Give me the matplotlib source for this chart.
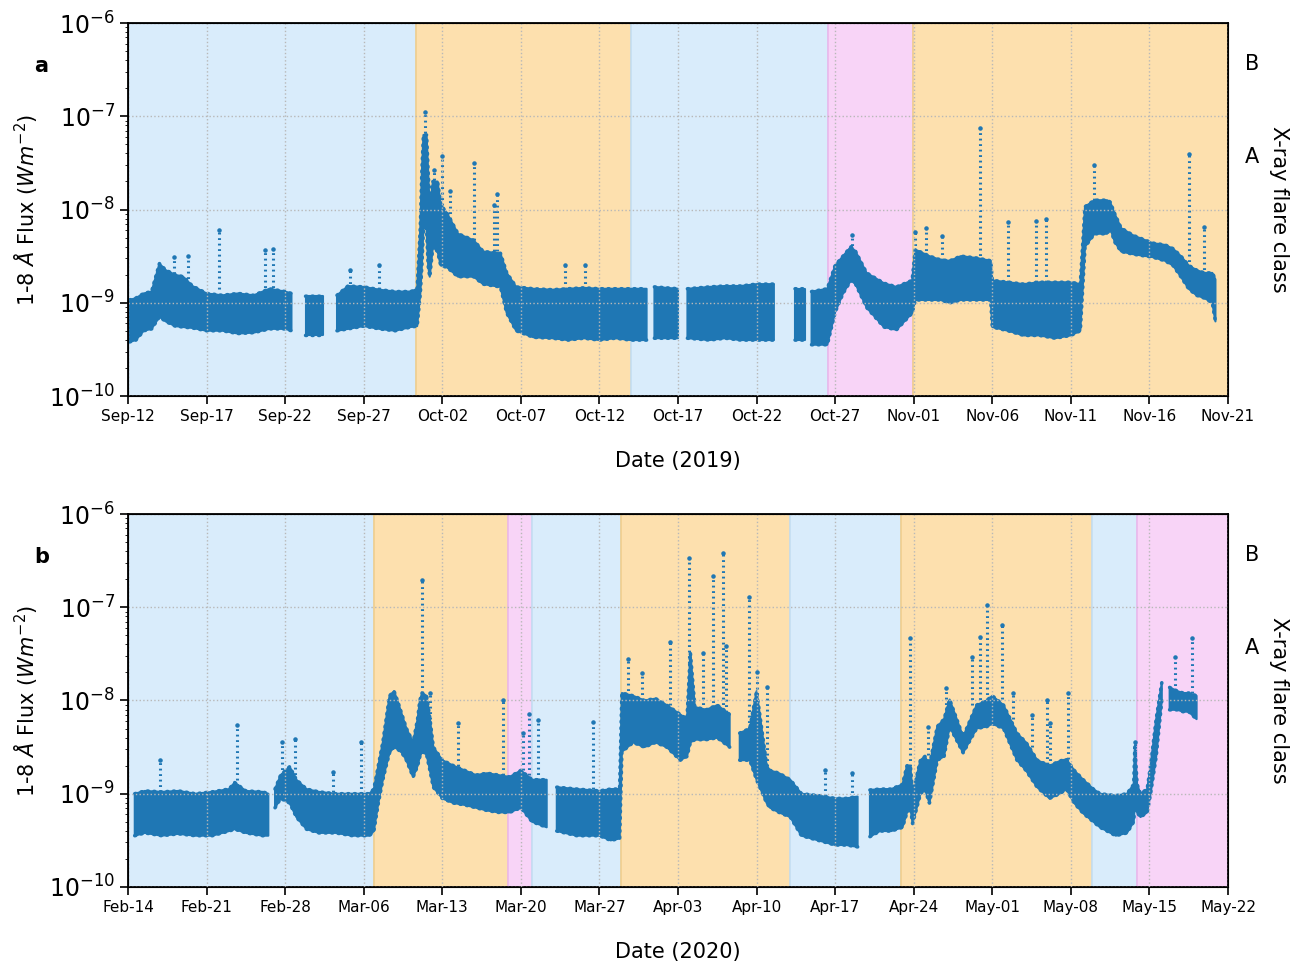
import numpy as np
import matplotlib
matplotlib.use("Agg")
import matplotlib.pyplot as plt
import matplotlib.dates as mdates
from matplotlib.ticker import NullFormatter

nan = np.nan

# ---- panel a (2019), time in days since Sep-12, flux as log10(W m^-2) ----
start_a = np.datetime64('2019-09-12')
t_a = [0.1, 0.5, 1.0, 1.5, 2.0, 2.4, 3.0, 3.5, 4.1, 5.0, 6.0, 7.0, 8.0, 9.0, 10.0, 10.4, 10.45,
       11.3, 12.4, 12.45,
       13.3, 14.0, 15.0, 16.0, 17.0, 18.0, 18.4, 18.6, 18.7, 18.8, 19.0, 19.1, 19.2, 19.4, 19.7,
       19.9, 20.3, 21.0, 22.0, 22.6, 23.7, 24.1, 24.7, 25.8, 27.0, 28.0, 29.0, 30.0, 31.0, 32.0,
       33.0, 33.05,
       33.5, 35.0, 35.1,
       35.6, 37.0, 38.0, 39.0, 40.0, 41.1, 41.2,
       42.45, 43.1, 43.2,
       43.5, 44.5, 45.0, 45.5, 46.0, 46.3, 47.0, 48.1, 48.9, 49.9, 50.1, 51.0, 51.7, 52.3, 53.0,
       54.0, 54.9, 55.0, 56.0, 57.0, 58.0, 59.0, 60.0, 60.6, 60.9, 61.5, 62.3, 62.5, 62.8, 63.2,
       64.0, 65.2, 66.0, 66.5, 67.0, 67.5, 68.0, 68.5, 69.0, 69.2]
lo_a = [-9.42, -9.40, -9.30, -9.28, -9.15, -9.20, -9.25, -9.26, -9.27, -9.30, -9.30, -9.33, -9.32, -9.28, -9.28, -9.30, nan,
        -9.35, -9.35, nan,
        -9.30, -9.28, -9.25, -9.28, -9.30, -9.26, -9.25, -8.90, -8.60, -8.20, -8.20, -8.60, -8.72, -8.40, -8.45,
        -8.60, -8.62, -8.72, -8.72, -8.80, -8.83, -9.11, -9.30, -9.37, -9.38, -9.40, -9.38, -9.40, -9.38, -9.40,
        -9.40, nan,
        -9.38, -9.38, nan,
        -9.38, -9.40, -9.38, -9.40, -9.40, -9.40, nan,
        -9.40, -9.40, nan,
        -9.45, -9.45, -9.10, -8.90, -8.76, -8.80, -9.05, -9.26, -9.29, -9.11, -8.97, -8.97, -8.97, -9.00, -8.97,
        -8.97, -8.97, -9.26, -9.30, -9.35, -9.35, -9.38, -9.35, -9.30, -8.40, -8.26, -8.26, -8.20, -8.35, -8.45,
        -8.48, -8.51, -8.55, -8.60, -8.72, -8.85, -8.92, -8.95, -9.00, -9.20]
hi_a = [-8.97, -8.95, -8.90, -8.88, -8.58, -8.65, -8.70, -8.72, -8.82, -8.90, -8.92, -8.90, -8.92, -8.85, -8.88, -8.90, nan,
        -8.93, -8.93, nan,
        -8.92, -8.82, -8.83, -8.86, -8.88, -8.88, -8.85, -8.20, -7.60, -7.20, -7.20, -7.60, -8.00, -7.70, -7.70,
        -7.95, -8.04, -8.26, -8.33, -8.45, -8.47, -8.68, -8.83, -8.85, -8.86, -8.85, -8.84, -8.85, -8.85, -8.85,
        -8.85, nan,
        -8.83, -8.85, nan,
        -8.85, -8.83, -8.82, -8.82, -8.80, -8.80, nan,
        -8.85, -8.85, nan,
        -8.88, -8.85, -8.60, -8.50, -8.40, -8.45, -8.68, -8.79, -8.83, -8.76, -8.43, -8.50, -8.54, -8.55, -8.50,
        -8.52, -8.55, -8.76, -8.78, -8.80, -8.78, -8.78, -8.78, -8.80, -7.97, -7.90, -7.90, -7.92, -8.05, -8.20,
        -8.28, -8.36, -8.38, -8.42, -8.50, -8.60, -8.65, -8.68, -8.68, -8.75]
# isolated flare spikes: time, base, top (log10)
spk_t_a = [2.9, 3.8, 5.8, 8.7, 9.2, 14.1, 16.0, 18.9, 19.5, 20.0, 20.5, 22.0, 23.3, 23.5, 27.8, 29.1,
           46.1, 50.1, 50.8, 51.8, 54.2, 56.0, 57.8, 58.4, 61.5, 67.5, 68.5]
spk_b_a = [-8.75, -8.80, -8.85, -8.90, -8.90, -8.85, -8.85, -7.30, -7.80, -7.95, -8.10, -8.33, -8.45, -8.45, -8.85, -8.85,
           -8.45, -8.45, -8.50, -8.54, -8.55, -8.78, -8.78, -8.78, -7.90, -8.62, -8.70]
spk_top_a = [-8.51, -8.50, -8.22, -8.43, -8.42, -8.65, -8.60, -6.95, -7.58, -7.43, -7.80, -7.50, -7.95, -7.83, -8.60, -8.60,
             -8.27, -8.24, -8.20, -8.28, -7.13, -8.13, -8.12, -8.10, -7.52, -7.40, -8.19]
span_a = [(0.0, 18.33, 'quiet'), (18.33, 32.0, 'active'), (32.0, 44.56, 'quiet'),
          (44.56, 49.94, 'mixed'), (49.94, 70.0, 'active')]

# ---- panel b (2020), time in days since Feb-14 ----
start_b = np.datetime64('2020-02-14')
t_b = [0.6, 1.5, 3.0, 4.5, 6.0, 7.5, 9.0, 9.5, 10.5, 12.0, 12.5, 12.6,
       13.1, 13.6, 14.4, 15.0, 15.9, 17.0, 18.5, 20.0, 21.5, 21.9, 22.3, 22.7, 23.0, 23.3, 23.7,
       24.0, 24.4, 24.8, 25.4, 25.8, 26.0, 26.2, 26.6, 26.9, 27.2, 28.0, 29.0, 30.0, 31.0, 32.0,
       33.0, 34.0, 35.0, 36.0, 37.3, 37.4,
       38.2, 40.0, 42.0, 43.0, 43.8, 44.0, 45.0, 46.0, 47.0, 48.0, 49.2, 49.8, 50.1, 50.5, 51.5,
       52.5, 53.6, 53.7,
       54.5, 55.4, 56.0, 56.9, 57.2, 58.0, 59.0, 60.0, 61.5, 63.0, 64.0, 65.0, 65.05,
       66.1, 67.0, 68.0, 69.0, 69.4, 69.7, 69.9, 70.6, 71.0, 71.4, 72.1, 72.7, 73.2, 74.4, 75.6,
       76.5, 77.0, 78.0, 79.2, 80.0, 81.0, 82.1, 83.0, 83.6, 84.3, 85.1, 86.0, 86.6, 88.0, 89.0,
       89.6, 89.7, 89.9, 90.2, 90.8, 91.1, 91.6, 92.1, 92.2,
       92.8, 93.5, 94.0, 94.5, 95.2]
lo_b = [-9.45, -9.42, -9.45, -9.43, -9.45, -9.45, -9.40, -9.38, -9.42, -9.45, -9.45, nan,
        -9.15, -9.05, -9.10, -9.25, -9.38, -9.42, -9.42, -9.45, -9.45, -9.40, -9.10, -8.85, -8.70, -8.56, -8.50,
        -8.52, -8.56, -8.64, -8.82, -8.70, -8.60, -8.55, -8.58, -8.75, -8.93, -9.05, -9.10, -9.12, -9.15, -9.18,
        -9.20, -9.20, -9.15, -9.30, -9.36, nan,
        -9.40, -9.45, -9.45, -9.50, -9.48, -8.55, -8.45, -8.50, -8.45, -8.50, -8.64, -8.60, -8.45, -8.42, -8.42,
        -8.40, -8.50, nan,
        -8.64, -8.64, -8.85, -9.10, -9.15, -9.20, -9.25, -9.45, -9.50, -9.55, -9.55, -9.57, nan,
        -9.46, -9.40, -9.40, -9.36, -9.20, -9.15, -9.32, -9.00, -8.95, -9.10, -8.64, -8.60, -8.28, -8.56, -8.30,
        -8.28, -8.25, -8.30, -8.64, -8.75, -8.93, -9.05, -9.00, -8.95, -9.10, -9.21, -9.30, -9.36, -9.45, -9.42,
        -9.30, -9.10, -9.20, -9.25, -9.20, -9.00, -8.60, -8.00, nan,
        -8.10, -8.10, -8.12, -8.12, -8.20]
hi_b = [-9.00, -8.97, -8.98, -8.97, -9.00, -8.98, -8.95, -8.88, -8.97, -8.98, -9.00, nan,
        -8.95, -8.80, -8.71, -8.85, -8.95, -8.98, -9.00, -9.00, -9.00, -8.95, -8.70, -8.45, -8.20, -7.95, -7.90,
        -8.00, -8.15, -8.30, -8.45, -8.20, -8.00, -7.92, -7.95, -8.20, -8.50, -8.64, -8.70, -8.75, -8.80, -8.78,
        -8.80, -8.82, -8.75, -8.85, -8.85, nan,
        -8.93, -8.95, -8.97, -8.95, -8.95, -7.92, -7.95, -8.00, -7.98, -8.05, -8.15, -8.20, -7.49, -8.07, -8.10,
        -8.05, -8.15, nan,
        -8.35, -8.30, -7.90, -8.70, -8.75, -8.78, -8.85, -9.00, -9.02, -9.05, -9.05, -9.03, nan,
        -8.96, -8.95, -8.95, -8.90, -8.70, -8.70, -9.00, -8.64, -8.60, -8.70, -8.28, -8.20, -7.99, -8.39, -8.05,
        -8.00, -7.95, -8.05, -8.35, -8.45, -8.64, -8.70, -8.65, -8.63, -8.75, -8.85, -8.95, -9.00, -9.02, -9.00,
        -8.90, -8.50, -8.90, -9.00, -8.95, -8.70, -8.20, -7.81, nan,
        -7.86, -7.90, -7.92, -7.92, -7.95]
spk_t_b = [2.85, 9.7, 13.7, 14.9, 18.3, 20.8, 26.2, 26.9, 29.4, 33.4, 35.2, 35.7, 36.5, 41.4,
           44.5, 45.8, 48.3, 50.0, 51.2, 52.1, 53.0, 53.3, 55.3, 56.0, 56.9, 62.1, 64.5,
           69.7, 71.3, 72.9, 75.2, 75.9, 76.5, 77.9, 78.8, 80.5, 81.9, 82.1, 83.7, 89.7, 93.3, 94.8]
spk_b_b = [-8.98, -8.97, -8.80, -8.85, -8.98, -9.00, -7.92, -8.20, -8.70, -8.80, -8.75, -8.80, -8.85, -8.95,
           -7.95, -8.00, -8.05, -7.60, -8.10, -8.08, -8.10, -8.12, -8.30, -8.00, -8.70, -9.02, -9.05,
           -8.70, -8.70, -8.10, -8.05, -8.05, -8.00, -7.98, -8.20, -8.50, -8.68, -8.70, -8.63, -8.90, -7.90, -7.92]
spk_top_b = [-8.64, -8.26, -8.44, -8.41, -8.77, -8.44, -6.71, -7.92, -8.24, -8.00, -8.35, -8.15, -8.21, -8.23,
             -7.55, -7.71, -7.37, -6.47, -7.49, -6.67, -6.42, -7.42, -6.89, -7.69, -7.85, -8.75, -8.78,
             -7.33, -8.28, -7.87, -7.53, -7.32, -6.98, -7.19, -7.92, -8.16, -8.00, -8.24, -7.92, -8.44, -7.53, -7.33]
span_b = [(0.0, 21.9, 'quiet'), (21.9, 33.87, 'active'), (33.87, 35.95, 'mixed'),
          (35.95, 43.9, 'quiet'), (43.9, 58.95, 'active'), (58.95, 68.9, 'quiet'),
          (68.9, 85.9, 'active'), (85.9, 89.85, 'quiet'), (89.85, 98.0, 'mixed')]

span_colors = {'quiet': '#d9ecfb', 'active': '#fde0ae', 'mixed': '#f8d4f7'}
span_edges = {'quiet': '#c4def2', 'active': '#f0cf8e', 'mixed': '#ebb8ec'}
dot_color = '#1f77b4'


def draw_panel(ax, start, ndays, tick_step, t, lo, hi, spk_t, spk_b, spk_top, spans, year, letter):
    x0 = mdates.date2num(start)
    for a, b, kind in spans:
        ax.axvspan(x0 + a, x0 + b, facecolor=span_colors[kind], edgecolor=span_edges[kind], lw=1.2, zorder=0)
    x = x0 + np.array(t)
    ylo, yhi = 10 ** np.array(lo), 10 ** np.array(hi)
    ax.fill_between(x, ylo, yhi, color=dot_color, lw=1.5, zorder=2)
    # dotted envelope so the edge of the dense cloud looks grainy
    for edge in (ylo, yhi):
        ax.plot(x, edge, color=dot_color, lw=2.6, ls=(0, (0.3, 1.5)),
                dash_capstyle='round', zorder=2)
    xs = x0 + np.array(spk_t)
    ax.vlines(xs, 10 ** np.array(spk_b), 10 ** np.array(spk_top), color=dot_color,
              lw=2.2, linestyles=[(0, (0.6, 1.2))], zorder=2)
    ax.scatter(xs, 10 ** np.array(spk_top), s=5, color=dot_color, zorder=3)

    ax.set_yscale('log')
    ax.set_ylim(1e-10, 1e-6)
    ax.set_xlim(x0, x0 + ndays)
    ticks = x0 + np.arange(0, ndays + 1, tick_step)
    ax.set_xticks(ticks)
    ax.xaxis.set_major_formatter(mdates.DateFormatter('%b-%d'))
    ax.tick_params(axis='x', labelsize=11)
    ax.tick_params(axis='y', which='major', labelsize=17, length=6, width=1.2)
    ax.tick_params(axis='y', which='both', right=True)
    ax.tick_params(axis='x', length=6, width=1.2)
    ax.grid(True, which='major', linestyle=':', color='#b8b8b8', lw=1.0)
    ax.set_axisbelow(False)
    for s in ax.spines.values():
        s.set_linewidth(1.3)
    ax.set_ylabel(r'1-8 $\AA$ Flux ($Wm^{-2}$)', fontsize=15, labelpad=6)
    ax.set_xlabel(f'Date ({year})', fontsize=15, labelpad=19)
    ax.text(-0.085, 0.885, letter, transform=ax.transAxes, fontsize=15, fontweight='bold',
            ha='left', va='center')

    ax2 = ax.twinx()
    ax2.set_yscale('log')
    ax2.set_ylim(1e-10, 1e-6)
    ax2.yaxis.set_major_formatter(NullFormatter())
    ax2.set_yticks([10 ** -7.42, 10 ** -6.42], ['A', 'B'], minor=True)
    ax2.tick_params(axis='y', which='minor', length=0, labelsize=15, pad=12)
    ax2.tick_params(axis='y', which='major', length=0)
    ax2.set_ylabel('X-ray flare class', fontsize=15, rotation=270, labelpad=22)


fig = plt.figure(figsize=(13.01, 9.64), dpi=100)
ax_a = fig.add_axes([0.0984, 0.5892, 0.8455, 0.3869])
ax_b = fig.add_axes([0.0984, 0.0799, 0.8455, 0.3869])

draw_panel(ax_a, start_a, 70, 5, t_a, lo_a, hi_a, spk_t_a, spk_b_a, spk_top_a, span_a, 2019, 'a')
draw_panel(ax_b, start_b, 98, 7, t_b, lo_b, hi_b, spk_t_b, spk_b_b, spk_top_b, span_b, 2020, 'b')

plt.savefig('out.png', dpi=100)
